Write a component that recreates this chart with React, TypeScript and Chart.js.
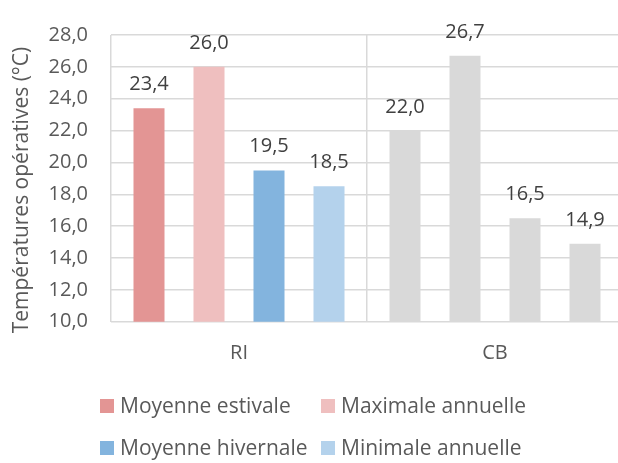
import React, { useEffect, useRef } from "react";
import { Chart, registerables } from "chart.js";

Chart.register(...registerables);

// Building variants
const categories = ["RI", "CB"];

// Operative temperatures (°C) per series: [RI, CB]
const seriesNames = ["Moyenne estivale", "Maximale annuelle", "Moyenne hivernale", "Minimale annuelle"];
const moyenneEstivale = [23.4, 22.0];
const maximaleAnnuelle = [26.0, 26.7];
const moyenneHivernale = [19.5, 16.5];
const minimaleAnnuelle = [18.5, 14.9];

const seriesColors = ["#E39594", "#EFBFBF", "#83B4DE", "#B4D2EC"];
const otherColor = "#D9D9D9";

const yMin = 10;
const yMax = 28;
const yStep = 2;

const axisTitle = "Températures opératives (°C)";

const FONT = "'Open Sans', 'DejaVu Sans', sans-serif";
const TEXT = "#595959";
const LABEL = "#404040";
const GRID = "#D9D9D9";

const fmt = (v: number) => v.toFixed(1).replace(".", ",");

const valueLabels = {
  id: "valueLabels",
  afterDatasetsDraw(chart: any) {
    const ctx = chart.ctx;
    ctx.save();
    ctx.font = `20px ${FONT}`;
    ctx.fillStyle = LABEL;
    ctx.textAlign = "center";
    ctx.textBaseline = "alphabetic";
    chart.data.datasets.forEach((ds: any, i: number) => {
      const meta = chart.getDatasetMeta(i);
      meta.data.forEach((bar: any, j: number) => {
        ctx.fillText(fmt(ds.data[j]), bar.x, bar.y - 18);
      });
    });
    ctx.restore();
  },
};

const titleAndLegend = {
  id: "titleAndLegend",
  afterDraw(chart: any) {
    const ctx = chart.ctx;
    ctx.save();
    // vertical axis title
    ctx.font = `21px ${FONT}`;
    ctx.fillStyle = TEXT;
    ctx.translate(22, 190);
    ctx.rotate(-Math.PI / 2);
    ctx.textAlign = "center";
    ctx.textBaseline = "middle";
    ctx.fillText(axisTitle, 0, 0);
    ctx.restore();

    // legend laid out in two columns
    ctx.save();
    ctx.font = `21px ${FONT}`;
    ctx.textBaseline = "middle";
    ctx.textAlign = "left";
    const colX = [100, 321];
    const rowY = [406, 448];
    chart.data.datasets.forEach((ds: any, i: number) => {
      const x = colX[i % 2];
      const y = rowY[Math.floor(i / 2)];
      ctx.fillStyle = seriesColors[i];
      ctx.fillRect(x, y - 7, 14, 14);
      ctx.fillStyle = TEXT;
      ctx.fillText(ds.label, x + 20, y + 1);
    });
    ctx.restore();
  },
};

export default function App() {
  const ref = useRef<HTMLCanvasElement | null>(null);

  useEffect(() => {
    if (!ref.current) return;
    const values = [moyenneEstivale, maximaleAnnuelle, moyenneHivernale, minimaleAnnuelle];
    const chart = new Chart(ref.current, {
      type: "bar",
      data: {
        labels: categories,
        datasets: seriesNames.map((name, i) => ({
          label: name,
          data: values[i],
          backgroundColor: categories.map((_, j) => (j === 0 ? seriesColors[i] : otherColor)),
          categoryPercentage: 0.9375,
          barPercentage: 0.517,
        })),
      },
      options: {
        responsive: false,
        animation: false,
        devicePixelRatio: 1,
        layout: { padding: { top: 23.3, left: 0, right: 0, bottom: 101.3 } },
        plugins: {
          legend: { display: false },
          tooltip: { enabled: false },
        },
        scales: {
          x: {
            grid: { offset: true, color: GRID, lineWidth: 1.5, drawTicks: false },
            border: { display: false },
            ticks: { color: TEXT, font: { family: FONT, size: 20 }, padding: 20 },
            afterFit: (s: any) => {
              s.height = 40;
            },
          },
          y: {
            min: yMin,
            max: yMax,
            grid: { color: GRID, lineWidth: 1.5, drawTicks: false },
            border: { display: false },
            ticks: {
              stepSize: yStep,
              color: TEXT,
              font: { family: FONT, size: 20 },
              padding: 23,
              callback: (v: any) => fmt(Number(v)),
            },
            afterFit: (s: any) => {
              s.width = 111;
            },
          },
        },
      },
      plugins: [valueLabels, titleAndLegend],
    });
    return () => chart.destroy();
  }, []);

  return (
    <div
      style={{
        position: "fixed",
        left: 0,
        top: 0,
        width: 618,
        height: 463,
        overflow: "hidden",
        background: "#fff",
      }}
    >
      <canvas ref={ref} width={623} height={463} style={{ width: 623, height: 463, display: "block" }} />
    </div>
  );
}
